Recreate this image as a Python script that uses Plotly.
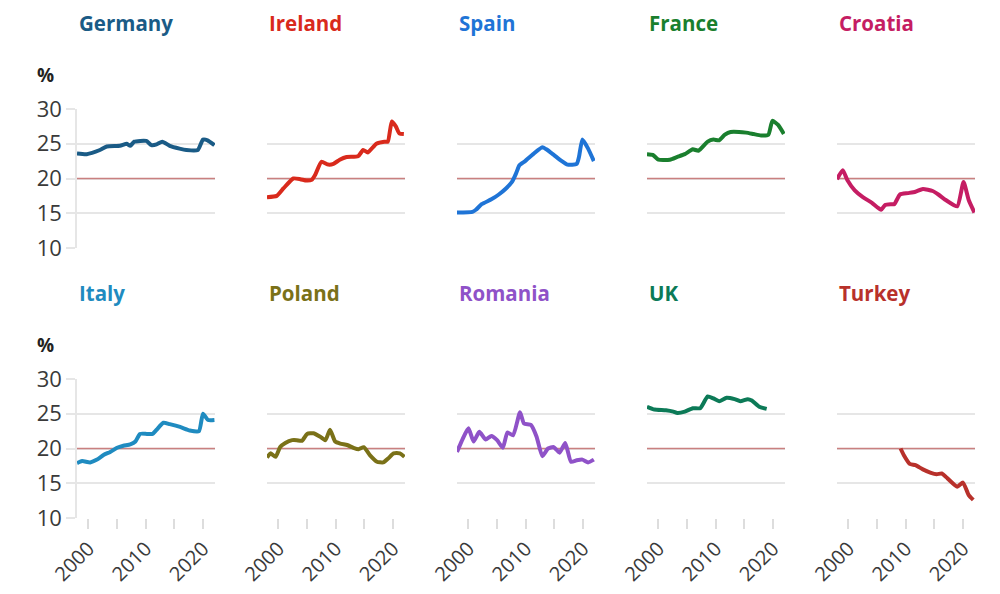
import plotly.graph_objects as go

# ---------------- data ----------------
COUNTRIES = ["Germany", "Ireland", "Spain", "France", "Croatia",
             "Italy", "Poland", "Romania", "UK", "Turkey"]
COLORS = ["#1a5b86", "#d92a1c", "#1f74d6", "#1a7f2e", "#c51d63",
          "#1f8bc0", "#7a7118", "#8f52c8", "#0c7a57", "#b8312b"]

GERMANY_YEARS = [1998, 1999.7, 2002, 2003.2, 2005.5, 2006.7, 2007.3, 2008, 2010.1, 2011, 2011.9,
                 2012.9, 2014.2, 2015.9, 2017.1, 2019.1, 2020, 2020.8, 2022]
GERMANY_VALUES = [23.6, 23.5, 24.1, 24.6, 24.7, 25.0, 24.7, 25.3, 25.4, 24.8, 24.9,
                  25.3, 24.7, 24.3, 24.1, 24.1, 25.6, 25.5, 24.8]

IRELAND_YEARS = [1998, 1999.7, 2000.9, 2002.6, 2003.8, 2004.9, 2005.8, 2006.4, 2007.5, 2008.7, 2009.6,
                 2010.7, 2011.9, 2013.9, 2014.8, 2015.6, 2017.1, 2018.5, 2019.1, 2019.8, 2020.5, 2021.1, 2021.9]
IRELAND_VALUES = [17.3, 17.5, 18.6, 20.0, 19.9, 19.7, 19.8, 20.5, 22.4, 22.0, 22.1,
                  22.7, 23.1, 23.2, 24.1, 23.75, 25.0, 25.3, 25.3, 28.2, 27.5, 26.5, 26.4]

SPAIN_YEARS = [1998, 2000.7, 2001.3, 2002.3, 2004, 2005.3, 2006.6, 2007.6, 2008.3, 2008.9, 2009.9,
               2011.3, 2012.9, 2013.6, 2014.9, 2016.3, 2017.3, 2018.9, 2019.3, 2019.9, 2020.9, 2021.9]
SPAIN_VALUES = [15.1, 15.2, 15.5, 16.3, 17.0, 17.7, 18.6, 19.5, 20.7, 21.9, 22.5,
                23.5, 24.5, 24.2, 23.4, 22.5, 22.0, 22.1, 23.1, 25.6, 24.3, 22.5]

FRANCE_YEARS = [1998, 1999, 2000, 2002, 2003.3, 2004.6, 2006, 2007, 2008.6, 2009.6, 2010.6,
                2011.6, 2012.6, 2015.3, 2016.6, 2017.9, 2019.2, 2019.9, 2020.9, 2021.9]
FRANCE_VALUES = [23.5, 23.4, 22.7, 22.7, 23.1, 23.5, 24.2, 24.0, 25.3, 25.6, 25.5,
                 26.3, 26.7, 26.6, 26.4, 26.2, 26.3, 28.3, 27.7, 26.4]

CROATIA_YEARS = [1998, 1999, 1999.8, 2001.1, 2002.4, 2004.1, 2005.7, 2006.4, 2007.4, 2008, 2009,
                 2010.4, 2011.7, 2013, 2014.7, 2015.7, 2017, 2019, 2020.1, 2021, 2022]
CROATIA_VALUES = [19.9, 21.2, 19.8, 18.3, 17.4, 16.5, 15.5, 16.2, 16.3, 16.3, 17.7,
                  17.9, 18.1, 18.5, 18.2, 17.7, 16.9, 16.0, 19.5, 16.9, 15.1]

ITALY_YEARS = [1998, 1998.9, 2000.3, 2001.5, 2002.7, 2003.8, 2005, 2006.1, 2007.3, 2008.2, 2009,
               2010.2, 2011.2, 2011.9, 2013.1, 2014.2, 2016, 2017.7, 2019.3, 2020, 2020.9, 2022]
ITALY_VALUES = [17.9, 18.2, 18.0, 18.4, 19.1, 19.5, 20.1, 20.4, 20.6, 21.0, 22.1,
                22.1, 22.1, 22.7, 23.7, 23.5, 23.1, 22.6, 22.5, 25.0, 24.1, 24.1]

POLAND_YEARS = [1998, 1998.6, 1999.5, 2000.3, 2001.2, 2002.4, 2003.2, 2004.1, 2005, 2006.1, 2007.3,
                2008.2, 2009, 2009.9, 2010.8, 2012, 2013.1, 2014, 2014.9, 2016, 2017.2, 2018.3,
                2019.2, 2020.1, 2021.2, 2022]
POLAND_VALUES = [18.7, 19.3, 18.8, 20.2, 20.8, 21.2, 21.2, 21.1, 22.1, 22.2, 21.7,
                 21.2, 22.7, 21.0, 20.7, 20.5, 20.1, 19.9, 20.2, 19.0, 18.1, 18.0,
                 18.6, 19.3, 19.3, 18.8]

ROMANIA_YEARS = [1998, 1999, 2000, 2000.9, 2001.9, 2003, 2004, 2005, 2006, 2006.8, 2007.8,
                 2009, 2009.7, 2010.9, 2011.9, 2012.9, 2013.9, 2014.9, 2015.9, 2016.9, 2017.9,
                 2018.9, 2019.9, 2020.9, 2021.9]
ROMANIA_VALUES = [19.5, 21.4, 22.9, 21.0, 22.4, 21.3, 21.8, 21.2, 20.1, 22.3, 21.9,
                  25.2, 23.6, 23.4, 21.7, 18.9, 20.0, 20.2, 19.4, 20.8, 18.1,
                  18.3, 18.4, 18.0, 18.4]

UK_YEARS = [1998, 1999.3, 2001.3, 2002.6, 2003.3, 2004.6, 2006, 2007.3, 2008.6, 2009.6, 2010.6,
            2011.9, 2013.3, 2014.3, 2015.6, 2016.3, 2017.6, 2018.9]
UK_VALUES = [26.0, 25.6, 25.5, 25.3, 25.1, 25.3, 25.8, 25.8, 27.5, 27.2, 26.8,
             27.3, 27.1, 26.8, 27.1, 26.9, 26.0, 25.7]

TURKEY_YEARS = [2009.1, 2009.7, 2010.7, 2011.7, 2013, 2014.4, 2015.4, 2016.3, 2017.3, 2019, 2020,
                2021, 2021.8]
TURKEY_VALUES = [20.0, 19.0, 17.8, 17.6, 17.0, 16.5, 16.3, 16.4, 15.7, 14.5, 15.1,
                 13.3, 12.6]

SERIES_YEARS = [GERMANY_YEARS, IRELAND_YEARS, SPAIN_YEARS, FRANCE_YEARS, CROATIA_YEARS,
                ITALY_YEARS, POLAND_YEARS, ROMANIA_YEARS, UK_YEARS, TURKEY_YEARS]
SERIES_VALUES = [GERMANY_VALUES, IRELAND_VALUES, SPAIN_VALUES, FRANCE_VALUES, CROATIA_VALUES,
                 ITALY_VALUES, POLAND_VALUES, ROMANIA_VALUES, UK_VALUES, TURKEY_VALUES]

THRESHOLD = 20
X_RANGE = [1998, 2022.1]
Y_RANGE = [10, 30]
Y_TICKS = [10, 15, 20, 25, 30]
X_TICKS = [2000, 2005, 2010, 2015, 2020]
X_TICK_LABELS = ["2000", "", "2010", "", "2020"]
UNIT = "%"

# ---------------- layout ----------------
OFF = 8                   # page body margin of the browser
W, H = 1000 - OFF, 594 - OFF
COL_LEFT = [77, 267, 457, 647, 837]
COL_W = 138
ROW_TOP = [109, 379]      # pixel y (in the screenshot) of value 30
ROW_BOT = [248, 518]      # pixel y (in the screenshot) of value 10
FONT = "Open Sans"


def px_x(p):
    return (p - OFF) / W


def px_y(p):
    return 1 - (p - OFF) / H


fig = go.Figure()
layout = dict(
    width=W, height=H, margin=dict(l=0, r=0, t=0, b=0, autoexpand=False),
    paper_bgcolor="white", plot_bgcolor="white", showlegend=False,
    font=dict(family=FONT, color="#333333"),
)
annotations = []

for i, name in enumerate(COUNTRIES):
    r, c = divmod(i, 5)
    n = i + 1
    xa = "xaxis" if n == 1 else f"xaxis{n}"
    ya = "yaxis" if n == 1 else f"yaxis{n}"
    xref = "x" if n == 1 else f"x{n}"
    yref = "y" if n == 1 else f"y{n}"
    bottom = (r == 1)
    first = (c == 0)
    layout[xa] = dict(
        domain=[px_x(COL_LEFT[c]), px_x(COL_LEFT[c] + COL_W)], anchor=yref, range=X_RANGE,
        showgrid=False, zeroline=False, showline=False, automargin=False,
        tickvals=X_TICKS if bottom else [],
        ticktext=X_TICK_LABELS if bottom else [],
        ticks="outside" if bottom else "", ticklen=10, tickcolor="#dddddd", tickwidth=1.5,
        tickangle=-45, tickfont=dict(size=20, color="#3a3a3a", family=FONT),
        showticklabels=bottom, fixedrange=True,
    )
    layout[ya] = dict(
        domain=[px_y(ROW_BOT[r]), px_y(ROW_TOP[r])], anchor=xref, range=Y_RANGE,
        tickvals=Y_TICKS, showgrid=True, gridcolor="#e6e6e6", gridwidth=1.5,
        zeroline=False, automargin=False,
        showline=first, linecolor="#e6e6e6", linewidth=1.5,
        ticks="outside" if first else "", ticklen=9, tickcolor="#e6e6e6", tickwidth=1.5,
        showticklabels=first, tickfont=dict(size=22, color="#3a3a3a", family=FONT),
        fixedrange=True,
    )
    # reference line at the threshold
    fig.add_trace(go.Scatter(
        x=X_RANGE, y=[THRESHOLD, THRESHOLD], mode="lines",
        line=dict(color="#c98080", width=1.5), xaxis=xref, yaxis=yref,
        hoverinfo="skip",
    ))
    fig.add_trace(go.Scatter(
        x=SERIES_YEARS[i], y=SERIES_VALUES[i], mode="lines",
        line=dict(color=COLORS[i], width=4, shape="spline", smoothing=0.5),
        xaxis=xref, yaxis=yref, hoverinfo="x+y", cliponaxis=False,
    ))
    annotations.append(dict(
        text=f"<b>{name}</b>", x=px_x(COL_LEFT[c]), y=px_y(ROW_TOP[r] - 86),
        xref="paper", yref="paper", xanchor="left", yanchor="middle",
        showarrow=False, font=dict(size=20.5, color=COLORS[i], family=FONT),
    ))
    if first:
        annotations.append(dict(
            text=f"<b>{UNIT}</b>", x=px_x(35), y=px_y(ROW_TOP[r] - 34),
            xref="paper", yref="paper", xanchor="left", yanchor="middle",
            showarrow=False, font=dict(size=19, color="#222222", family=FONT),
        ))

layout["annotations"] = annotations
fig.update_layout(**layout)
fig.write_html("out.html")
